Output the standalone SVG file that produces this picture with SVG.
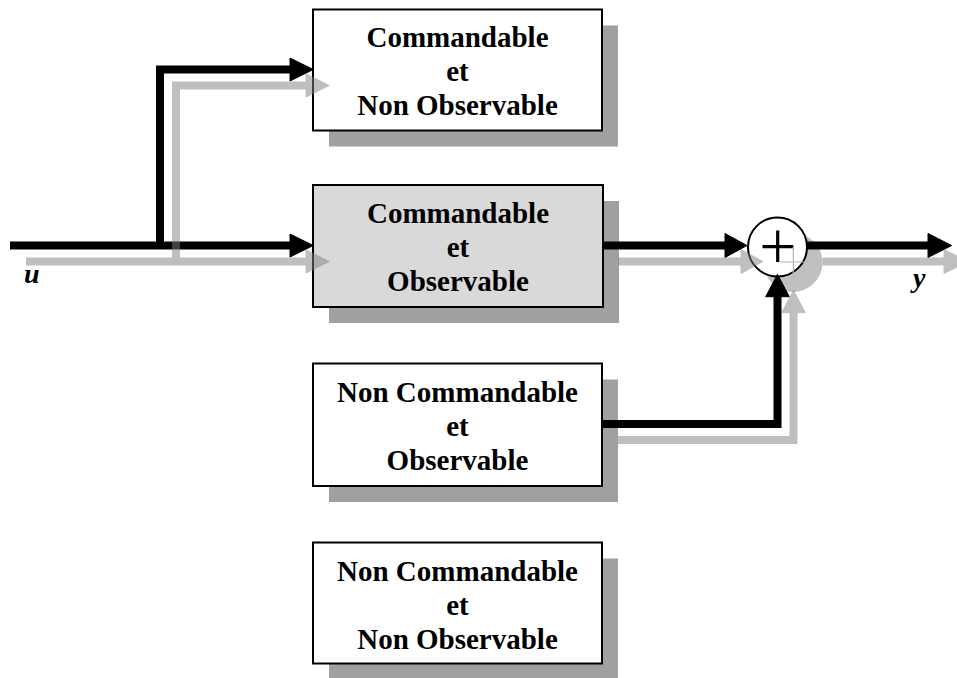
<svg xmlns="http://www.w3.org/2000/svg" width="957" height="678" viewBox="0 0 957 678">
<defs>
<style>
.shadow{fill:#a0a0a0}
.box{fill:#ffffff;stroke:#000;stroke-width:2}
.box.hl{fill:#d9d9d9}
.lbl{font-family:"Liberation Serif","Times New Roman",serif;font-weight:bold;font-size:29px;text-anchor:middle;fill:#000}
.var{font-family:"Liberation Serif","Times New Roman",serif;font-weight:bold;font-style:italic;font-size:28px;fill:#000}
.ln{fill:none;stroke-width:8;stroke-linejoin:miter}
</style>
<g id="wires">
<path class="ln" d="M10,245.5 H291"/>
<polygon points="290,234 313.3,245.5 290,257"/>
<path class="ln" d="M160,245.5 V69.5 H291"/>
<polygon points="290,58 313.3,69.5 290,81"/>
<path class="ln" d="M602,245.5 H726"/>
<polygon points="725,233.5 747,245.5 725,257.5"/>
<path class="ln" d="M806.5,245.5 H929"/>
<polygon points="928,233.5 951.7,245.5 928,257.5"/>
<path class="ln" d="M602,424 H777.5 V295.7"/>
<polygon points="765.7,296.7 777.5,274.3 789.3,296.7"/>
</g>
</defs>

<g id="node-cno">
<rect class="shadow" x="329" y="25.5" width="289" height="121"/>
<rect class="box" x="313" y="9.5" width="289" height="121"/>
<text class="lbl" x="457.5" y="47">Commandable</text>
<text class="lbl" x="457.5" y="81">et</text>
<text class="lbl" x="457.5" y="115">Non Observable</text>
</g>

<g id="node-co">
<rect class="shadow" x="329" y="201" width="290" height="122"/>
<rect class="box hl" x="313" y="185" width="290" height="122"/>
<text class="lbl" x="458" y="223">Commandable</text>
<text class="lbl" x="458" y="257">et</text>
<text class="lbl" x="458" y="291">Observable</text>
</g>

<g id="node-nco">
<rect class="shadow" x="329" y="379.5" width="289" height="122.5"/>
<rect class="box" x="313" y="363.5" width="289" height="122.5"/>
<text class="lbl" x="457.5" y="402">Non Commandable</text>
<text class="lbl" x="457.5" y="436">et</text>
<text class="lbl" x="457.5" y="470">Observable</text>
</g>

<g id="node-ncno">
<rect class="shadow" x="329" y="558.5" width="289" height="121"/>
<rect class="box" x="313" y="542.5" width="289" height="121"/>
<text class="lbl" x="457.5" y="581">Non Commandable</text>
<text class="lbl" x="457.5" y="615">et</text>
<text class="lbl" x="457.5" y="649">Non Observable</text>
</g>

<g id="node-sum">
<circle cx="793" cy="262.5" r="29.5" fill="#c0c0c0"/>
<circle cx="777.5" cy="247" r="29.5" fill="#fff" stroke="#000" stroke-width="2"/>
<path d="M762.5,246.7 H793.3 M777.7,230.5 V262" stroke="#000" stroke-width="3.2" fill="none"/>
<path d="M780,262 H808 M793.3,246.5 V277" stroke="#b4b4b4" stroke-width="1.2" fill="none"/>
</g>

<g id="connectors">
<use href="#wires" fill="#000" stroke="#000"/>
<g opacity="0.5">
<use href="#wires" transform="translate(16,16)" fill="#808080" stroke="#808080"/>
</g>
</g>

<g id="labels">
<text class="var" x="24" y="282.5">u</text>
<text class="var" x="913" y="287">y</text>
</g>
</svg>
